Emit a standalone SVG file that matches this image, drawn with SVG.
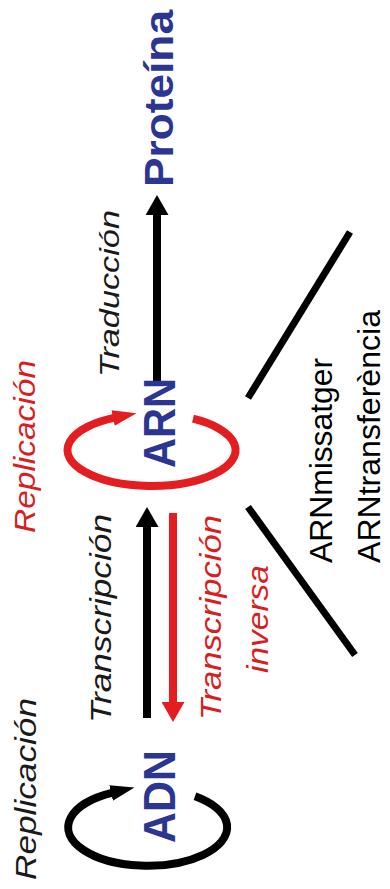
<svg xmlns="http://www.w3.org/2000/svg" width="390" height="889" viewBox="0 0 390 889">
<style>
.t{font-family:"Liberation Sans",Arial,sans-serif;}
.it{font-style:italic;font-size:29px;}
.b{font-weight:bold;fill:#2b3592;}
.blk{fill:#1a1a1a;}
.red{fill:#d81e1e;}
.reg{font-size:31px;fill:#000;}
.ln{fill:none;stroke-width:8;}
</style>
<defs>
<marker id="ahB" markerUnits="userSpaceOnUse" markerWidth="20" markerHeight="23" viewBox="0 0 20 23" refX="0" refY="11.5" orient="auto"><path d="M0,0 L20,11.5 L0,23 z" fill="#000"/></marker>
<marker id="ahR" markerUnits="userSpaceOnUse" markerWidth="20" markerHeight="23" viewBox="0 0 20 23" refX="0" refY="11.5" orient="auto"><path d="M0,0 L20,11.5 L0,23 z" fill="#e41e20"/></marker>
<marker id="rhB" markerUnits="userSpaceOnUse" markerWidth="24" markerHeight="16" viewBox="0 0 24 16" refX="2" refY="8" orient="auto"><path d="M0,0 L24,8 L0,16 z" fill="#000"/></marker>
<marker id="rhR" markerUnits="userSpaceOnUse" markerWidth="24" markerHeight="16" viewBox="0 0 24 16" refX="2" refY="8" orient="auto"><path d="M0,0 L24,8 L0,16 z" fill="#e41e20"/></marker>
</defs>
<rect width="390" height="889" fill="#fff"/>
<g id="connectors">
<path class="ln" stroke="#000" d="M195,796.3 A79.5,38.5 0 1,1 113,792.6" marker-end="url(#rhB)"/>
<path class="ln" stroke="#e41e20" d="M193,418.7 A84,36 0 1,1 115,417.6" marker-end="url(#rhR)"/>
<path class="ln" stroke="#000" d="M157,382 V215" marker-end="url(#ahB)"/>
<path class="ln" stroke="#000" d="M147,718 V527" marker-end="url(#ahB)"/>
<path class="ln" stroke="#e41e20" stroke-width="7" d="M173,513 V702" marker-end="url(#ahR)"/>
<path fill="none" stroke="#000" stroke-width="7" d="M248,398 L350,232"/>
<path fill="none" stroke="#000" stroke-width="7" d="M248,507 L355,655"/>
</g>
<g id="adn"><text class="t b" font-size="44" textLength="93" lengthAdjust="spacingAndGlyphs" transform="translate(175,843) rotate(-90)">ADN</text></g>
<g id="arn"><text class="t b" font-size="45" textLength="90" lengthAdjust="spacingAndGlyphs" transform="translate(175,468) rotate(-90)">ARN</text></g>
<g id="proteina"><text class="t b" font-size="41" textLength="177" lengthAdjust="spacingAndGlyphs" transform="translate(173,187) rotate(-90)">Proteína</text></g>
<g id="replicacion-adn"><text class="t it blk" font-size="30" textLength="182" lengthAdjust="spacingAndGlyphs" transform="translate(36,880) rotate(-90)">Replicación</text></g>
<g id="replicacion-arn"><text class="t it red" textLength="173" lengthAdjust="spacingAndGlyphs" transform="translate(35,533) rotate(-90)">Replicación</text></g>
<g id="traduccion"><text class="t it blk" style="font-size:27px" textLength="167" lengthAdjust="spacingAndGlyphs" transform="translate(119,377) rotate(-90)">Traducción</text></g>
<g id="transcripcion"><text class="t it blk" textLength="209" lengthAdjust="spacingAndGlyphs" transform="translate(111,723) rotate(-90)">Transcripción</text></g>
<g id="transcripcion-inversa">
<text class="t it red" textLength="205" lengthAdjust="spacingAndGlyphs" transform="translate(221,720) rotate(-90)">Transcripción</text>
<text class="t it red" textLength="108" lengthAdjust="spacingAndGlyphs" transform="translate(268,673) rotate(-90)">inversa</text>
</g>
<g id="arnmissatger"><text class="t reg" textLength="205" lengthAdjust="spacingAndGlyphs" transform="translate(332,563) rotate(-90)">ARNmissatger</text></g>
<g id="arntransferencia"><text class="t reg" textLength="253" lengthAdjust="spacingAndGlyphs" transform="translate(380,563) rotate(-90)">ARNtransferència</text></g>
</svg>
